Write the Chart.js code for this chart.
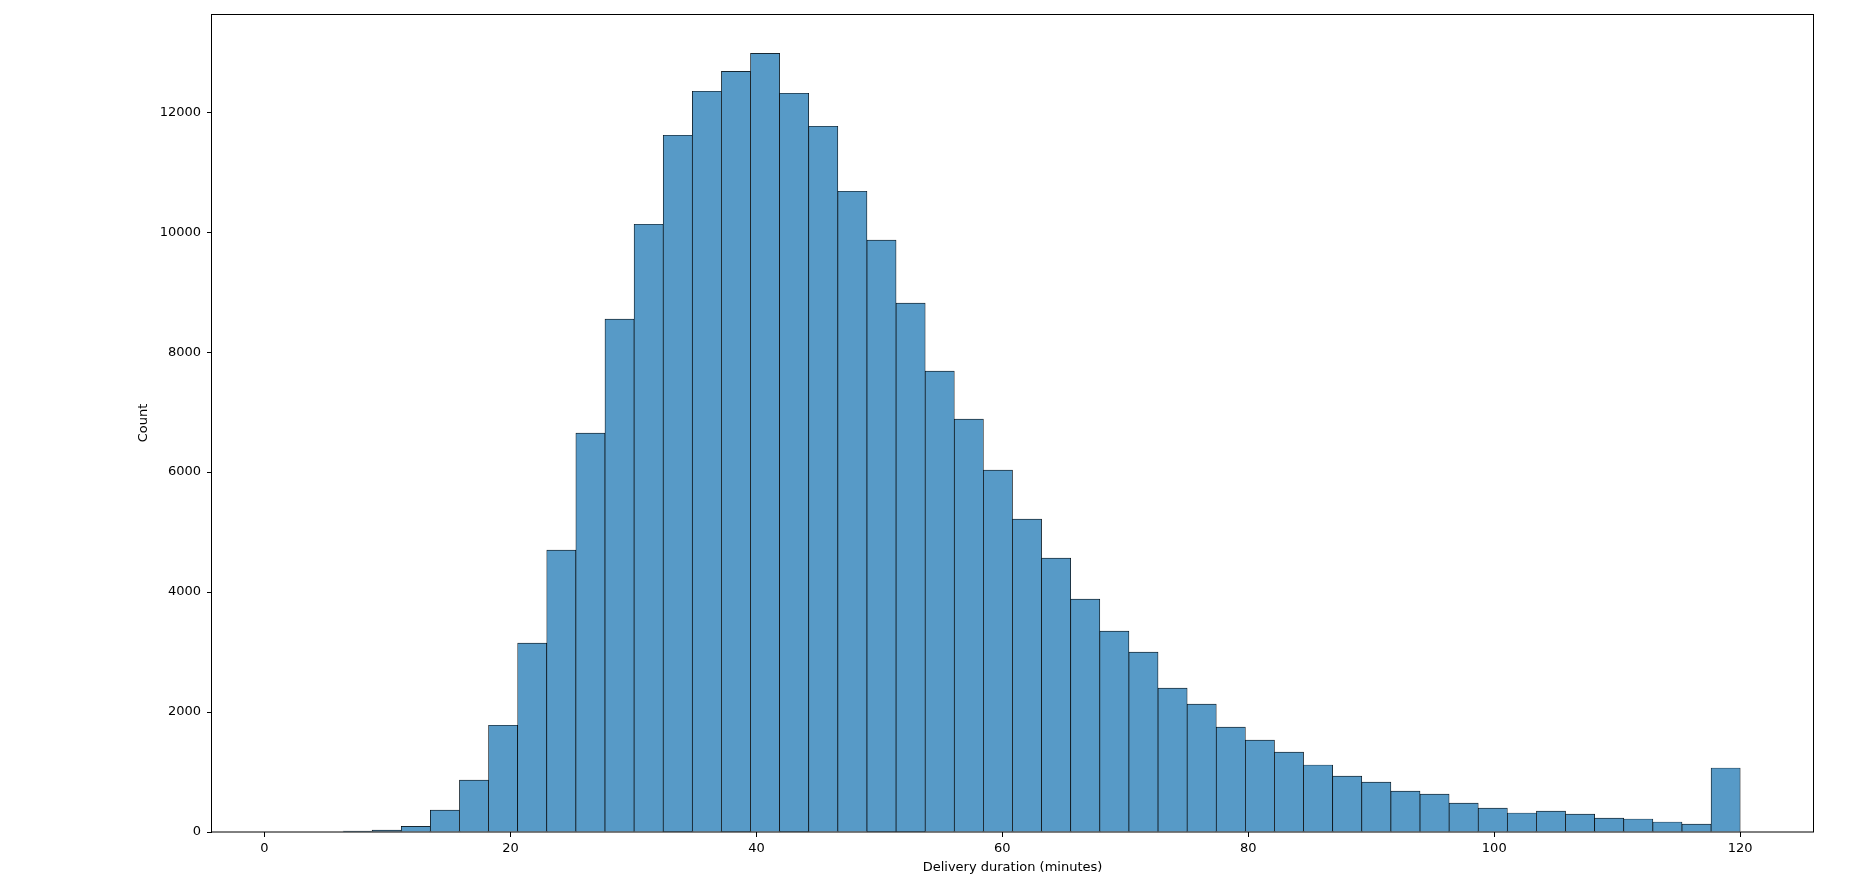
<!DOCTYPE html>
<html>
<head>
<meta charset="utf-8">
<script src="https://cdn.jsdelivr.net/npm/chart.js@4/dist/chart.umd.min.js"></script>
<style>
  body { margin: 0; background: #fff; }
  #wrap { width: 1850px; height: 892px; }
</style>
</head>
<body>
<div id="wrap"><canvas id="histChart" width="1850" height="892"></canvas></div>
<script>
// histogram bins (minutes)
var binStart = 1.65;
var binWidth = 2.367;
var binCounts = [0, 0, 15, 30, 95, 365, 865, 1780, 3150, 4700,
    6650, 8550, 10133, 11617, 12350, 12683, 12983, 12317, 11767, 10683,
    9867, 8817, 7683, 6883, 6035, 5217, 4567, 3883, 3350, 3000,
    2400, 2133, 1750, 1533, 1333, 1117, 933, 833, 683, 633,
    483, 400, 317, 350, 300, 233, 217, 167, 133, 1067];
var xTicks = [0, 20, 40, 60, 80, 100, 120];
var yTicks = [0, 2000, 4000, 6000, 8000, 10000, 12000];

var points = binCounts.map(function(c, i) {
    return { x: binStart + binWidth * (i + 0.5), y: c };
});

// draws the top and right spines too
var frame = {
    id: 'frame',
    afterDatasetsDraw: function(chart) {
        var a = chart.chartArea;
        var ctx = chart.ctx;
        ctx.save();
        ctx.strokeStyle = '#000';
        ctx.lineWidth = 1;
        ctx.strokeRect(Math.round(a.left) - 0.5, Math.round(a.top) + 0.5,
            Math.round(a.right - a.left) + 1, Math.round(a.bottom - a.top) - 0.5);
        ctx.restore();
    }
};

var tickFont = { family: 'DejaVu Sans', size: 13 };

var ctx = document.getElementById('histChart').getContext('2d');
var chart = new Chart(ctx, {
    type: 'bar',
    data: {
        datasets: [{
            label: 'Count',
            data: points,
            backgroundColor: '#579ac7',
            borderColor: '#000',
            borderWidth: 0.7,
            barPercentage: 1,
            categoryPercentage: 1
        }]
    },
    options: {
        responsive: false,
        animation: false,
        devicePixelRatio: 1,
        layout: { padding: { left: 120, top: 14, right: 37, bottom: 0 } },
        plugins: { legend: { display: false }, tooltip: { enabled: false } },
        scales: {
            x: {
                type: 'linear',
                offset: false,
                min: -4.27,
                max: 125.92,
                afterBuildTicks: function(axis) {
                    axis.ticks = xTicks.map(function(v) { return { value: v }; });
                },
                afterFit: function(scale) { scale.height = 60; },
                grid: { offset: false, drawOnChartArea: false, drawTicks: true, tickLength: 5, color: '#000' },
                border: { display: false },
                ticks: {
                    color: '#000', font: tickFont, padding: 4, maxRotation: 0,
                    callback: function(v) { return String(v); }
                },
                title: {
                    display: true,
                    text: 'Delivery duration (minutes)',
                    color: '#000',
                    font: tickFont,
                    padding: { top: 0, bottom: 17 }
                }
            },
            y: {
                min: 0,
                max: 13638,
                afterBuildTicks: function(axis) {
                    axis.ticks = yTicks.map(function(v) { return { value: v }; });
                },
                afterFit: function(scale) { scale.width = 212 - 120; },
                grid: { offset: false, drawOnChartArea: false, drawTicks: true, tickLength: 5, color: '#000' },
                border: { display: false },
                ticks: {
                    color: '#000', font: tickFont, padding: 6,
                    callback: function(v) { return String(v); }
                },
                title: {
                    display: true,
                    text: 'Count',
                    color: '#000',
                    font: tickFont,
                    padding: { top: 16, bottom: 0 }
                }
            }
        }
    },
    plugins: [frame]
});
</script>
</body>
</html>
